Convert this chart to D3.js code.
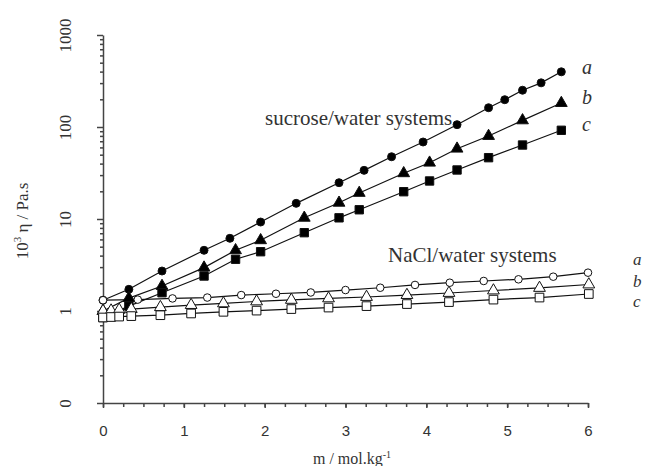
<!DOCTYPE html>
<html lang="en">
<head>
    <meta charset="UTF-8">
    <title>Viscosity of sucrose and NaCl solutions</title>
    <script src="https://d3js.org/d3.v7.min.js"></script>
    <style>
        body { margin: 0; background: white; }
        .serif { font-family: "Liberation Serif", "Times New Roman", serif; fill: #333; }
        .sans { font-family: "Liberation Sans", Arial, sans-serif; fill: #333; }
        .axis path, .axis line { stroke: #444; stroke-width: 1.5; }
    </style>
</head>
<body>
    <div id="chart"></div>

    <script>
    // sucrose/water systems (filled markers)
    const sucMa = [0, 0.32, 0.73, 1.25, 1.57, 1.95, 2.39, 2.92, 3.23, 3.57, 3.96, 4.38, 4.77, 4.97, 5.19, 5.42, 5.67];
    const sucEtaA = [1.31, 1.72, 2.72, 4.57, 6.17, 9.27, 14.8, 24.8, 33.8, 47.5, 68.7, 106, 162, 198, 251, 302, 398];
    const sucMbc = [0, 0.32, 0.73, 1.25, 1.64, 1.95, 2.49, 2.92, 3.17, 3.72, 4.04, 4.38, 4.77, 5.19, 5.67];
    const sucEtaB = [1.00, 1.38, 1.87, 2.96, 4.57, 5.87, 10.3, 15.0, 19.2, 31.4, 40.9, 58.1, 79.8, 118, 182];
    const sucEtaC = [0.85, 1.13, 1.58, 2.40, 3.65, 4.41, 7.10, 10.3, 12.6, 19.8, 25.9, 34.1, 46.4, 63.7, 92.1];

    // NaCl/water systems (open markers)
    const naclMa = [0, 0.43, 0.86, 1.29, 1.71, 2.14, 2.57, 3.0, 3.43, 3.86, 4.29, 4.71, 5.14, 5.57, 6.0];
    const naclEtaA = [1.31, 1.33, 1.37, 1.40, 1.49, 1.54, 1.59, 1.69, 1.79, 1.92, 2.03, 2.12, 2.21, 2.36, 2.61];
    const naclMbc = [0, 0.1, 0.2, 0.35, 0.71, 1.09, 1.49, 1.90, 2.33, 2.79, 3.26, 3.76, 4.28, 4.83, 5.40, 6.01];
    const naclEtaB = [1.00, 1.01, 1.03, 1.05, 1.10, 1.16, 1.21, 1.27, 1.32, 1.37, 1.42, 1.49, 1.57, 1.67, 1.78, 1.94];
    const naclEtaC = [0.85, 0.86, 0.87, 0.88, 0.90, 0.94, 0.98, 1.01, 1.05, 1.09, 1.13, 1.19, 1.25, 1.33, 1.40, 1.53];

    // axes
    const xTicks = [0, 1, 2, 3, 4, 5, 6];
    const yTicks = [0.1, 1, 10, 100, 1000];
    const yTickLabels = ["0", "1", "10", "100", "1000"];

    const width = 645, height = 466;
    const svg = d3.select("#chart").append("svg")
        .attr("width", width)
        .attr("height", height);

    const x = d3.scaleLinear().domain([0, 6]).range([103, 588]);
    const y = d3.scaleLog().domain([0.1, 1000]).range([403, 35]);

    // y axis: major + minor log ticks
    const yMinor = [];
    yTicks.slice(0, -1).forEach(t => { for (let k = 2; k <= 9; k++) yMinor.push(t * k); });

    svg.append("g").attr("class", "axis")
        .attr("transform", "translate(103,0)")
        .call(d3.axisLeft(y).tickValues(yMinor).tickSize(3).tickFormat(""))
        .select(".domain").remove();

    const yAxis = svg.append("g").attr("class", "axis")
        .attr("transform", "translate(103,0)")
        .call(d3.axisLeft(y).tickValues(yTicks).tickSize(6).tickSizeOuter(0)
            .tickFormat((d, i) => yTickLabels[i]));
    yAxis.selectAll("text")
        .attr("class", "serif")
        .attr("font-size", 17)
        .attr("text-anchor", "middle")
        .attr("dy", "0.35em")
        .attr("x", 0)
        .attr("transform", "translate(-38,0) rotate(-90)");

    // x axis: integer + quarter ticks
    svg.append("g").attr("class", "axis")
        .attr("transform", "translate(0,403)")
        .call(d3.axisBottom(x).tickValues(d3.range(0, 6.01, 0.25)).tickSize(4).tickFormat(""))
        .select(".domain").remove();

    const xAxis = svg.append("g").attr("class", "axis")
        .attr("transform", "translate(0,403)")
        .call(d3.axisBottom(x).tickValues(xTicks).tickSize(5).tickSizeOuter(0)
            .tickFormat(d3.format("d")));
    xAxis.selectAll("text")
        .attr("class", "sans")
        .attr("font-size", 15)
        .attr("y", 22);

    // axis titles
    svg.append("text").attr("class", "serif")
        .attr("x", 352).attr("y", 464)
        .attr("text-anchor", "middle")
        .attr("font-size", 16)
        .html('m / mol.kg<tspan dy="-6" font-size="10">-1</tspan>');

    svg.append("text").attr("class", "serif")
        .attr("transform", "translate(28,221) rotate(-90)")
        .attr("text-anchor", "middle")
        .attr("font-size", 17)
        .html('10<tspan dy="-7" font-size="11">3</tspan><tspan dy="7"> η / Pa.s</tspan>');

    // series
    const series = [
        { m: sucMa, eta: sucEtaA, sym: d3.symbolCircle, size: 50, fill: "#000" },
        { m: sucMbc, eta: sucEtaB, sym: d3.symbolTriangle, size: 60, fill: "#000" },
        { m: sucMbc, eta: sucEtaC, sym: d3.symbolSquare, size: 70, fill: "#000" },
        { m: naclMa, eta: naclEtaA, sym: d3.symbolCircle, size: 45, fill: "#fff" },
        { m: naclMbc, eta: naclEtaB, sym: d3.symbolTriangle, size: 60, fill: "#fff" },
        { m: naclMbc, eta: naclEtaC, sym: d3.symbolSquare, size: 75, fill: "#fff" }
    ];

    const line = d3.line().x(d => x(d[0])).y(d => y(d[1]));

    series.forEach(s => {
        const pts = s.m.map((m, i) => [m, s.eta[i]]);
        svg.append("path")
            .datum(pts)
            .attr("d", line)
            .attr("fill", "none")
            .attr("stroke", "#111")
            .attr("stroke-width", 1.2);
    });

    series.forEach(s => {
        const pts = s.m.map((m, i) => [m, s.eta[i]]);
        svg.selectAll(null)
            .data(pts)
            .enter()
            .append("path")
            .attr("d", d3.symbol().type(s.sym).size(s.size))
            .attr("transform", d => `translate(${x(d[0])},${y(d[1])})`)
            .attr("fill", s.fill)
            .attr("stroke", "#111")
            .attr("stroke-width", 1);
    });

    // annotations
    svg.append("text").attr("class", "serif")
        .attr("x", 265).attr("y", 125)
        .attr("font-size", 21)
        .text("sucrose/water systems");
    svg.append("text").attr("class", "serif")
        .attr("x", 388).attr("y", 262)
        .attr("font-size", 21)
        .text("NaCl/water systems");

    const sucLabels = [["a", 74], ["b", 104], ["c", 131]];
    sucLabels.forEach(l => {
        svg.append("text").attr("class", "serif")
            .attr("x", 582).attr("y", l[1])
            .attr("font-size", 20).attr("font-style", "italic")
            .text(l[0]);
    });
    const naclLabels = [["a", 265], ["b", 287], ["c", 307]];
    naclLabels.forEach(l => {
        svg.append("text").attr("class", "serif")
            .attr("x", 633).attr("y", l[1])
            .attr("font-size", 17).attr("font-style", "italic")
            .text(l[0]);
    });
    </script>
</body>
</html>
